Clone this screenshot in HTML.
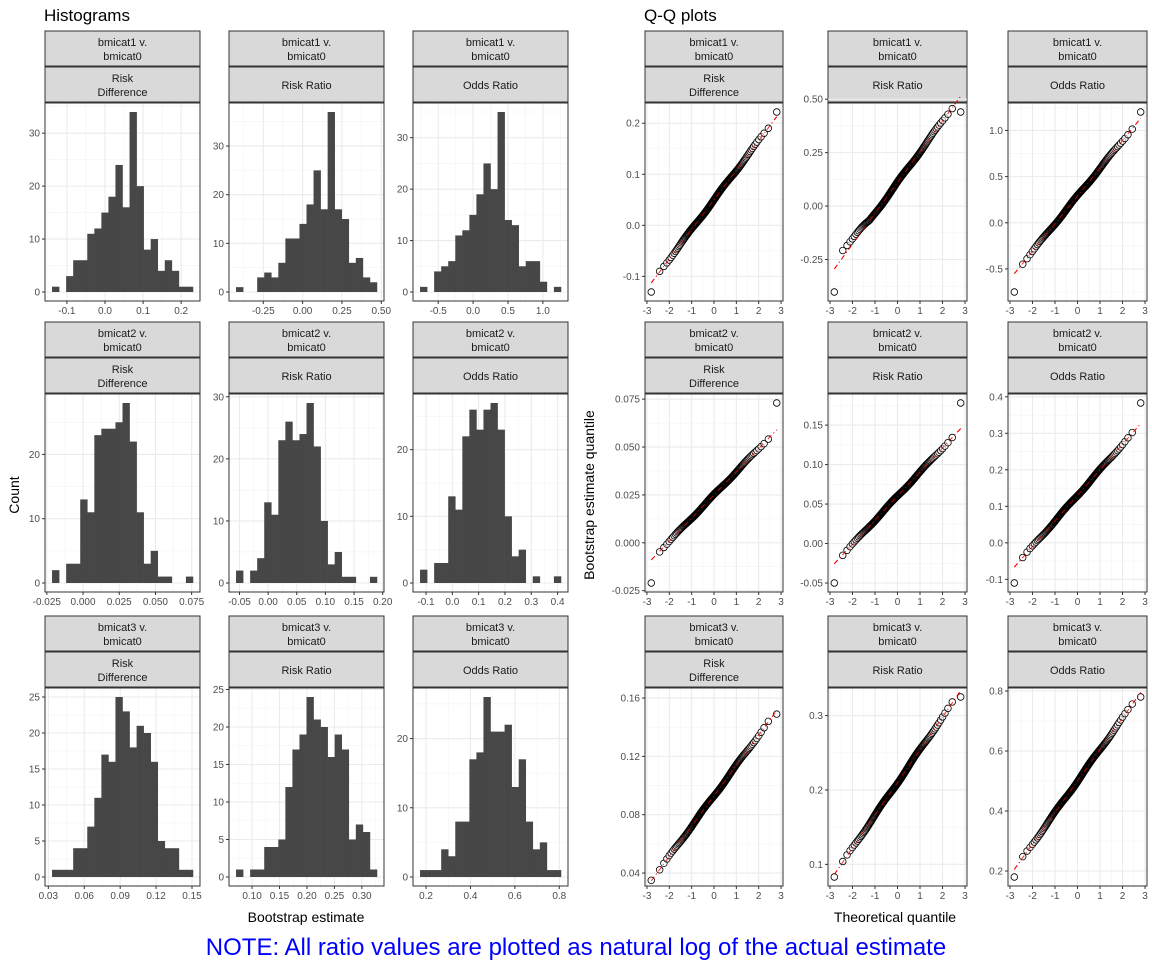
<!DOCTYPE html>
<html><head><meta charset="utf-8"><style>
body{margin:0;background:#fff;}
svg text{font-family:"Liberation Sans",Arial,sans-serif;}
</style></head><body>
<svg id="s" width="1152" height="960" xmlns="http://www.w3.org/2000/svg">
<text x="44" y="21" font-size="17" fill="#000">Histograms</text>
<text x="644" y="21" font-size="17" fill="#000">Q-Q plots</text>
<text x="19" y="495" font-size="14" text-anchor="middle" transform="rotate(-90 19 495)">Count</text>
<text x="306" y="922" font-size="14" text-anchor="middle">Bootstrap estimate</text>
<text x="594" y="495" font-size="14" text-anchor="middle" transform="rotate(-90 594 495)">Bootstrap estimate quantile</text>
<text x="895" y="922" font-size="14" text-anchor="middle">Theoretical quantile</text>
<text x="576" y="955" font-size="24" fill="#0000ff" text-anchor="middle">NOTE: All ratio values are plotted as natural log of the actual estimate</text>
</svg>
<script>
(function(){
var S=document.getElementById('s'),out='';
function E(s){out+=s;}
var rowTop=[31,322,616];
var hx=[[45,200],[229,384],[413,568]], qx=[[645,783],[828,967],[1008,1147]];
var names=[['bmicat1 v.','bmicat0'],['bmicat2 v.','bmicat0'],['bmicat3 v.','bmicat0']];
var meas=[['Risk','Difference'],['Risk Ratio'],['Odds Ratio']];
function strips(x0,x1,tp,r,c){
 var w=x1-x0,cx=(x0+x1)/2;
 E('<rect x="'+x0+'" y="'+tp+'" width="'+w+'" height="35" fill="#d9d9d9" stroke="#333" stroke-width="1"/>');
 E('<rect x="'+x0+'" y="'+(tp+36)+'" width="'+w+'" height="35" fill="#d9d9d9" stroke="#333" stroke-width="1"/>');
 E('<text x="'+cx+'" y="'+(tp+15)+'" font-size="11" fill="#1a1a1a" text-anchor="middle">'+names[r][0]+'</text>');
 E('<text x="'+cx+'" y="'+(tp+29)+'" font-size="11" fill="#1a1a1a" text-anchor="middle">'+names[r][1]+'</text>');
 var m=meas[c];
 if(m.length==2){E('<text x="'+cx+'" y="'+(tp+51)+'" font-size="11" fill="#1a1a1a" text-anchor="middle">'+m[0]+'</text>');
 E('<text x="'+cx+'" y="'+(tp+65)+'" font-size="11" fill="#1a1a1a" text-anchor="middle">'+m[1]+'</text>');}
 else E('<text x="'+cx+'" y="'+(tp+58)+'" font-size="11" fill="#1a1a1a" text-anchor="middle">'+m[0]+'</text>');
}
function axes(x0,x1,y0,y1,xd,yd,xt,xl,yt,yl){
 var X=function(v){return x0+(v-xd[0])/(xd[1]-xd[0])*(x1-x0);};
 var Y=function(v){return y1-(v-yd[0])/(yd[1]-yd[0])*(y1-y0);};
 function minors(t,d,f,vert){var st=t[1]-t[0];for(var v=t[0]-st/2;v<=d[1];v+=st){if(v<d[0])continue;var p=f(v);
  if(vert)E('<line x1="'+p+'" x2="'+p+'" y1="'+y0+'" y2="'+y1+'" stroke="#f3f3f3" stroke-width="0.6"/>');
  else E('<line x1="'+x0+'" x2="'+x1+'" y1="'+p+'" y2="'+p+'" stroke="#f3f3f3" stroke-width="0.6"/>');}}
 minors(xt,xd,X,1);minors(yt,yd,Y,0);
 xt.forEach(function(v,i){var p=X(v);E('<line x1="'+p+'" x2="'+p+'" y1="'+y0+'" y2="'+y1+'" stroke="#ebebeb" stroke-width="1.1"/>');
  E('<line x1="'+p+'" x2="'+p+'" y1="'+y1+'" y2="'+(y1+3)+'" stroke="#333"/>');
  E('<text x="'+p+'" y="'+(y1+13)+'" font-size="10" fill="#4d4d4d" text-anchor="middle">'+xl[i]+'</text>');});
 yt.forEach(function(v,i){var p=Y(v);E('<line x1="'+x0+'" x2="'+x1+'" y1="'+p+'" y2="'+p+'" stroke="#ebebeb" stroke-width="1.1"/>');
  E('<line x1="'+(x0-3)+'" x2="'+x0+'" y1="'+p+'" y2="'+p+'" stroke="#333"/>');
  E('<text x="'+(x0-5)+'" y="'+(p+3.5)+'" font-size="10" fill="#4d4d4d" text-anchor="end">'+yl[i]+'</text>');});
 return [X,Y];
}
function border(x0,x1,y0,y1){E('<rect x="'+x0+'" y="'+y0+'" width="'+(x1-x0)+'" height="'+(y1-y0)+'" fill="none" stroke="#333" stroke-width="1"/>');}
function rng(a,b){var r=b-a;return [a-0.05*r,b+0.05*r];}
var H=[
 [[1,0,3,6,6,11,12,15,18,24,16,34,20,8,10,4,6,4,1,1],-0.139,0.231,[-0.1,0,0.1,0.2],['-0.1','0.0','0.1','0.2'],[0,10,20,30]],
 [[1,0,0,3,4,3,6,11,11,14,18,25,17,37,17,15,6,7,3,2],-0.423,0.4725,[-0.25,0,0.25,0.5],['-0.25','0.00','0.25','0.50'],[0,10,20,30]],
 [[1,0,4,5,6,11,12,15,19,25,20,35,14,13,5,6,6,2,0,1],-0.76,1.259,[-0.5,0,0.5,1],['-0.5','0.0','0.5','1.0'],[0,10,20,30]],
 [[2,0,3,3,13,11,23,24,24,25,28,22,11,3,5,1,1,0,0,1],-0.0214,0.0759,[-0.025,0,0.025,0.05,0.075],['-0.025','0.000','0.025','0.050','0.075'],[0,10,20]],
 [[2,0,2,4,13,11,23,26,23,24,29,22,10,3,5,1,1,0,0,1],-0.056,0.19,[-0.05,0,0.05,0.1,0.15,0.2],['-0.05','0.00','0.05','0.10','0.15','0.20'],[0,10,20,30]],
 [[2,0,3,3,13,11,22,26,23,26,27,23,10,4,5,0,1,0,0,1],-0.1227,0.4128,[-0.1,0,0.1,0.2,0.3,0.4],['-0.1','0.0','0.1','0.2','0.3','0.4'],[0,10,20]],
 [[1,1,1,4,4,7,11,17,16,25,23,18,21,20,16,5,4,4,1,1],0.0331,0.1508,[0.03,0.06,0.09,0.12,0.15],['0.03','0.06','0.09','0.12','0.15'],[0,5,10,15,20,25]],
 [[1,0,1,1,4,4,5,12,17,19,24,21,20,16,19,17,5,7,6,1],0.0708,0.3275,[0.1,0.15,0.2,0.25,0.3],['0.10','0.15','0.20','0.25','0.30'],[0,5,10,15,20,25]],
 [[1,1,1,4,3,8,8,17,18,26,21,21,22,13,17,8,4,5,1,1],0.173,0.8076,[0.2,0.4,0.6,0.8],['0.2','0.4','0.6','0.8'],[0,10,20]]
];
function qnorm(p){var a=[-39.69683028665376,220.9460984245205,-275.9285104469687,138.3577518672690,-30.66479806614716,2.506628277459239],
b=[-54.47609879822406,161.5858368580409,-155.6989798598866,66.80131188771972,-13.28068155288572],
c=[-0.007784894002430293,-0.3223964580411365,-2.400758277161838,-2.549732539343734,4.374664141464968,2.938163982698783],
d=[0.007784695709041462,0.3224671290700398,2.445134137142996,3.754408661907416],pl=0.02425,q,r;
if(p<pl){q=Math.sqrt(-2*Math.log(p));return (((((c[0]*q+c[1])*q+c[2])*q+c[3])*q+c[4])*q+c[5])/((((d[0]*q+d[1])*q+d[2])*q+d[3])*q+1);}
if(p>1-pl){q=Math.sqrt(-2*Math.log(1-p));return -(((((c[0]*q+c[1])*q+c[2])*q+c[3])*q+c[4])*q+c[5])/((((d[0]*q+d[1])*q+d[2])*q+d[3])*q+1);}
q=p-0.5;r=q*q;return (((((a[0]*r+a[1])*r+a[2])*r+a[3])*r+a[4])*r+a[5])*q/(((((b[0]*r+b[1])*r+b[2])*r+b[3])*r+b[4])*r+1);}
var Q=[
 [-0.1306,0.222,0.05,0.058,[-0.1,0,0.1,0.2],['-0.1','0.0','0.1','0.2']],
 [-0.402,0.44,0.11,0.144,[-0.25,0,0.25,0.5],['-0.25','0.00','0.25','0.50']],
 [-0.75,1.2,0.29,0.3,[-0.5,0,0.5,1],['-0.5','0.0','0.5','1.0']],
 [-0.021,0.073,0.025,0.0121,[-0.025,0,0.025,0.05,0.075],['-0.025','0.000','0.025','0.050','0.075']],
 [-0.05,0.178,0.06,0.0305,[-0.05,0,0.05,0.1,0.15],['-0.05','0.00','0.05','0.10','0.15']],
 [-0.11,0.383,0.13,0.07,[-0.1,0,0.1,0.2,0.3,0.4],['-0.1','0.0','0.1','0.2','0.3','0.4']],
 [0.035,0.149,0.093,0.0208,[0.04,0.08,0.12,0.16],['0.04','0.08','0.12','0.16'],[0.0311,0.1669]],
 [0.083,0.325,0.21,0.044,[0.1,0.2,0.3],['0.1','0.2','0.3']],
 [0.18,0.78,0.5,0.105,[0.2,0.4,0.6,0.8],['0.2','0.4','0.6','0.8']]
];
var qs=[];for(var i=0;i<200;i++)qs.push(qnorm((i+0.5)/200));
for(var r=0;r<3;r++){var tp=rowTop[r],y0=tp+72,y1=tp+270;
 for(var c=0;c<3;c++){
  var h=H[r*3+c],x0=hx[c][0],x1=hx[c][1];strips(x0,x1,tp,r,c);
  var mx=Math.max.apply(null,h[0]);
  E('<rect x="'+x0+'" y="'+y0+'" width="'+(x1-x0)+'" height="'+(y1-y0)+'" fill="#fff"/>');
  var f=axes(x0,x1,y0,y1,rng(h[1],h[2]),rng(0,mx),h[3],h[4],h[5],h[5]);
  var bw=(h[2]-h[1])/20;
  h[0].forEach(function(n,k){if(!n)return;var a=f[0](h[1]+k*bw),b=f[0](h[1]+(k+1)*bw),t=f[1](n),z=f[1](0);
   E('<rect x="'+a+'" y="'+t+'" width="'+(b-a+0.3)+'" height="'+(z-t)+'" fill="#474747"/>');});
  border(x0,x1,y0,y1);
  var q=Q[r*3+c];x0=qx[c][0];x1=qx[c][1];strips(x0,x1,tp,r,c);
  E('<rect x="'+x0+'" y="'+y0+'" width="'+(x1-x0)+'" height="'+(y1-y0)+'" fill="#fff"/>');
  var g=axes(x0,x1,y0,y1,rng(-2.807,2.807),q[6]||rng(q[0],q[1]),[-3,-2,-1,0,1,2,3],['-3','-2','-1','0','1','2','3'],q[4],q[5]);
  var ys=[];
  for(var i=0;i<200;i++){ys.push(q[2]+q[3]*qs[i]+q[3]*0.03*Math.sin(qs[i]*4.1+r*1.7+c));}
  if(r==0&&c==1){for(var i=1;i<20;i++)ys[i]+=q[3]*0.25*(20-i)/20;}
  ys.sort(function(a,b){return a-b;});ys[0]=q[0];ys[199]=q[1];
  for(var i=1;i<200;i++)if(ys[i]<q[0])ys[i]=q[0];
  var L='<line x1="'+g[0](-2.807)+'" y1="'+g[1](q[2]-2.807*q[3])+'" x2="'+g[0](2.807)+'" y2="'+g[1](q[2]+2.807*q[3])+'" stroke="#ff0000" stroke-width="1" stroke-dasharray="5,3,1,3"';
  E(L+'/>');
  for(var i=0;i<200;i++)E('<circle cx="'+g[0](qs[i])+'" cy="'+g[1](ys[i])+'" r="3.3" fill="#fff" fill-opacity="0.6" stroke="#000" stroke-width="0.8"/>');
  E(L+' opacity="0.7"/>');
  border(x0,x1,y0,y1);
 }}
S.insertAdjacentHTML('beforeend',out);
})();
</script>
</body></html>
